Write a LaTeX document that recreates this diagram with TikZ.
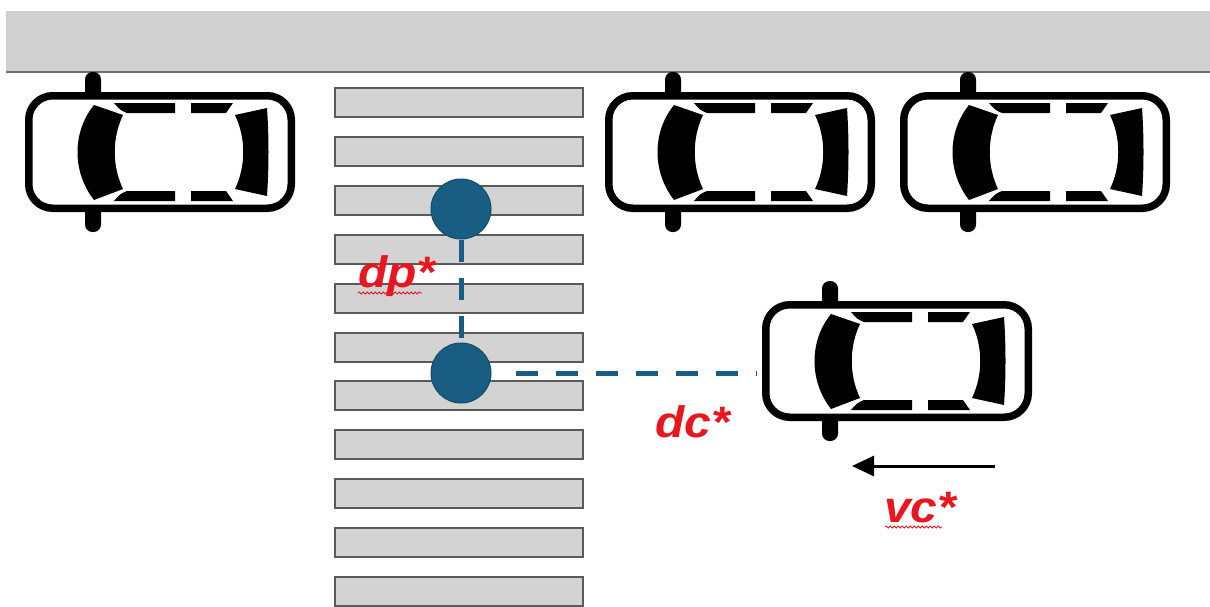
\documentclass[tikz,border=0pt]{standalone}
\usepackage{fontspec}
\setmainfont{Liberation Sans}
\newfontfamily\quantityfont[FakeStretch=1.09]{Liberation Sans}
\usetikzlibrary{arrows.meta,decorations.pathmorphing}

\definecolor{roadgray}{RGB}{208,208,208}
\definecolor{roadedge}{RGB}{110,110,110}
\definecolor{stripefill}{RGB}{211,211,211}
\definecolor{stripeedge}{RGB}{90,90,90}
\definecolor{pedblue}{RGB}{25,94,130}
\definecolor{labelred}{RGB}{232,22,30}

\tikzset{
  % top view of a car, nose pointing left, centred on the pic origin
  car/.pic={
    % side mirrors
    \fill[rounded corners=7.5] (-75,-80) rectangle (-59,-50);
    \fill[rounded corners=7.5] (-75,50) rectangle (-59,80);
    % body outline
    \draw[line width=7.5, fill=white, rounded corners=24]
      (-131.25,-56.25) rectangle (131.25,56.25);
    % windshield
    \fill (-66,-47) -- (-37,-37) .. controls (-48,-14) and (-48,14) .. (-37,37)
      -- (-66,48) .. controls (-88,20) and (-88,-20) .. (-66,-47) -- cycle;
    % side windows
    \fill (-46,-49) -- (15,-49) -- (15,-39) -- (-33,-39) .. controls (-40,-42) .. (-46,-49) -- cycle;
    \fill (31,-49) -- (73,-49) -- (66,-39) -- (31,-39) -- cycle;
    \fill (-46,49) -- (15,49) -- (15,39) -- (-33,39) .. controls (-40,42) .. (-46,49) -- cycle;
    \fill (31,49) -- (73,49) -- (66,39) -- (31,39) -- cycle;
    % rear window
    \fill (75,-37) -- (107,-44) .. controls (109,-15) and (109,15) .. (107,44)
      -- (75,37) .. controls (86,14) and (86,-14) .. (75,-37) -- cycle;
  },
  stripe/.style={fill=stripefill, draw=stripeedge, line width=2},
  ped/.style={circle, fill=pedblue, draw=pedblue!80!black, line width=1,
    minimum size=60, inner sep=0},
  gap/.style={draw=pedblue, line width=5, dash pattern=on 22 off 16},
  quantity/.style={text=labelred,
    font=\quantityfont\fontsize{44}{50}\selectfont\bfseries\itshape,
    inner sep=0, anchor=base west},
  squiggle/.style={labelred, line width=0.8, decorate,
    decoration={snake, amplitude=1, segment length=4}},
  velocity/.style={line width=3, -{Triangle[length=22,width=20]}},
}

\begin{document}
\begin{tikzpicture}[x=1pt, y=-1pt]
  \fill[white] (0,0) rectangle (1210,606);
  \useasboundingbox (0,0) rectangle (1210,606);

  % sidewalk band
  \fill[roadgray] (6,11) rectangle (1210,72);
  \draw[roadedge, line width=2] (6,72) -- (1210,72);

  % zebra crossing
  \foreach \i in {0,...,10}
    \draw[stripe] (335,{88+48.9*\i}) rectangle (583,{117+48.9*\i});

  % parked cars
  \pic at (160,152) {car};
  \pic at (740,152) {car};
  \pic at (1035,152) {car};

  % approaching car
  \pic at (897,361) {car};

  % pedestrian positions
  \node[ped] (p1) at (461,209) {};
  \node[ped] (p2) at (461,373) {};
  \coordinate (c4) at (757,373);

  \draw[gap] (p1.south) -- (p2.north);
  \draw[gap, dash pattern=on 22 off 18] ([xshift=24pt]p2.east) -- (c4);

  % speed of the car
  \coordinate (vtail) at (995,466);
  \coordinate (vhead) at (852,466);
  \draw[velocity] (vtail) -- (vhead);

  % labels
  \node[quantity] (dp) at (358,287) {dp*};
  \node[quantity] (dc) at (655,437) {dc*};
  \node[quantity] (vc) at (884,522) {vc*};
  \draw[squiggle] (358,293) -- (422,293);
  \draw[squiggle] (885,527) -- (942,527);
\end{tikzpicture}
\end{document}
